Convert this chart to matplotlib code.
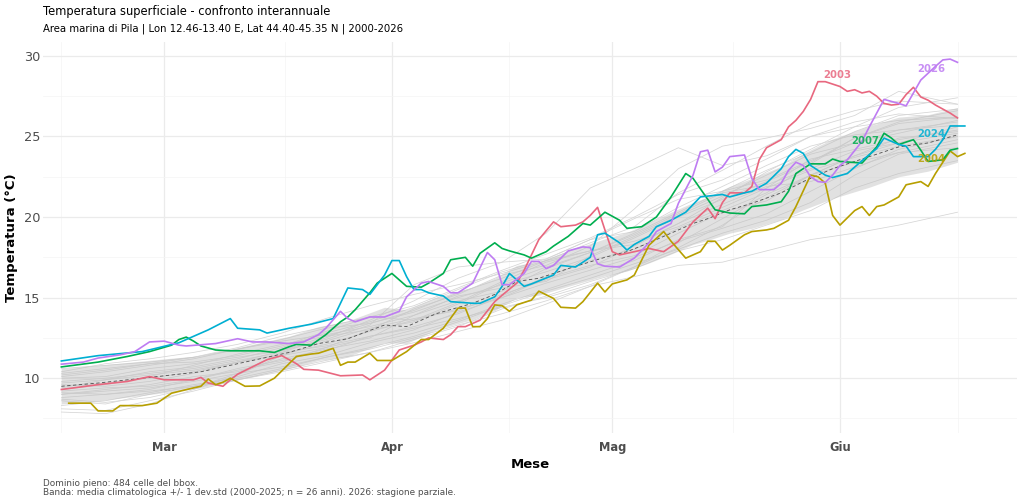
import numpy as np
import pandas as pd
import matplotlib
matplotlib.use("Agg")
import matplotlib.pyplot as plt
import matplotlib.dates as mdates
from matplotlib.ticker import FuncFormatter

plt.rcParams['font.family'] = ['DejaVu Sans']

# giorno 0 = 1 marzo (anno bisestile di riferimento)
BASE = pd.Timestamp("2000-03-01")
MESI = ["Gen", "Feb", "Mar", "Apr", "Mag", "Giu", "Lug", "Ago", "Set", "Ott", "Nov", "Dic"]

# --- anni evidenziati: giorni da 1 marzo, temperatura (°C)
d2003 = [-14, -9, -5, -2, 0, 4, 5, 6, 8, 9, 10, 12, 14, 16, 18, 19, 21, 24, 27, 28,
         30, 32, 34, 35, 36, 38, 39, 40, 41, 43, 45, 46, 48, 49, 51, 53, 54, 56, 57, 58,
         59, 60, 61, 62, 64, 66, 67, 68, 70, 72, 74, 75, 76, 77, 79, 80, 81, 82, 84, 85,
         86, 87, 88, 89, 90, 92, 93, 94, 95, 96, 97, 98, 99, 100, 101, 102, 103, 104, 105, 107,
         108]
t2003 = [9.3, 9.6, 9.8, 10.1, 9.9, 9.9, 10.05, 9.7, 9.5, 9.9, 10.25, 10.7, 11.15, 11.4, 10.9,
         10.55, 10.5, 10.15, 10.2, 9.9, 10.5, 11.75, 12.05, 12.25, 12.5, 12.4, 12.7, 13.2, 13.2,
         13.6, 14.75, 15.15, 15.9, 16.7, 18.6, 19.7, 19.4, 19.5, 19.7, 20.1, 20.6, 19.2, 17.85,
         17.65, 17.85, 18.05, 17.95, 17.85, 18.5, 19.7, 20.55, 19.9, 20.9, 21.5, 21.5, 21.9,
         23.55, 24.3, 24.8, 25.6, 26.0, 26.55, 27.3, 28.4, 28.4, 28.1, 27.8, 27.9, 27.7, 27.8,
         27.5, 27.05, 26.95, 27.0, 27.6, 28.05, 27.45, 27.25, 26.95, 26.45, 26.15]

d2004 = [-13, -10, -9, -7, -6, -3, -1, 1, 4, 5, 6, 7, 8, 9, 11, 13, 15, 17, 18, 20,
         21, 23, 24, 25, 26, 28, 29, 31, 33, 35, 36, 38, 40, 41, 42, 43, 44, 45, 46, 47,
         48, 50, 51, 53, 54, 56, 57, 59, 60, 61, 63, 64, 66, 68, 69, 71, 73, 74, 75, 76,
         77, 79, 80, 82, 83, 85, 86, 88, 89, 90, 91, 92, 94, 95, 96, 97, 98, 100, 101, 103,
         104, 105, 107, 108, 109]
t2004 = [8.45, 8.45, 7.97, 7.97, 8.3, 8.3, 8.45, 9.07, 9.4, 9.5, 9.95, 9.6, 9.75, 10.0, 9.5,
         9.52, 10.0, 10.9, 11.35, 11.5, 11.55, 11.85, 10.8, 11.0, 11.0, 11.55, 11.1, 11.1, 11.65,
         12.4, 12.4, 13.1, 14.35, 14.35, 13.2, 13.2, 13.7, 14.55, 14.5, 14.15, 14.55, 14.85, 15.4,
         14.95, 14.4, 14.35, 14.75, 15.9, 15.35, 15.85, 16.1, 16.4, 18.25, 19.1, 18.5, 17.45,
         17.85, 18.5, 18.5, 17.95, 18.25, 18.9, 19.1, 19.2, 19.3, 19.8, 20.65, 22.6, 22.5, 22.1,
         20.1, 19.5, 20.4, 20.65, 20.1, 20.65, 20.75, 21.25, 22.0, 22.2, 21.9, 22.7, 24.1, 23.75,
         23.95]

d2007 = [-14, -9, -5, -2, 1, 2, 3, 4, 5, 7, 9, 13, 15, 17, 18, 20, 22, 24, 25, 26,
         28, 29, 31, 32, 33, 35, 36, 38, 39, 41, 42, 43, 45, 46, 47, 49, 50, 52, 53, 54,
         55, 57, 58, 60, 62, 63, 65, 67, 69, 71, 72, 75, 77, 79, 80, 82, 84, 85, 86, 88,
         90, 91, 92, 95, 97, 98, 99, 100, 102, 103, 104, 106, 107, 108]
t2007 = [10.7, 11.0, 11.35, 11.65, 12.05, 12.4, 12.55, 12.3, 12.0, 11.75, 11.7, 11.7, 11.6,
         11.95, 12.1, 12.05, 12.7, 13.5, 13.8, 14.25, 15.3, 15.9, 16.5, 16.1, 15.7, 15.65, 15.9,
         16.5, 17.35, 17.5, 16.95, 17.75, 18.4, 18.05, 17.9, 17.65, 17.45, 17.85, 18.2, 18.5,
         18.8, 19.6, 19.5, 20.3, 19.8, 19.3, 19.4, 20.0, 21.25, 22.7, 22.4, 20.45, 20.25, 20.2,
         20.65, 20.75, 20.95, 21.6, 22.7, 23.3, 23.3, 23.6, 23.45, 23.35, 24.35, 25.2, 24.9,
         24.5, 24.8, 24.15, 23.45, 23.55, 24.15, 24.25]

d2024 = [-14, -9, -3, 2, 6, 9, 10, 13, 14, 17, 20, 23, 25, 27, 28, 30, 31, 32, 33, 34,
         35, 36, 38, 39, 42, 43, 45, 46, 47, 48, 49, 50, 53, 54, 56, 58, 59, 60, 62, 63,
         64, 66, 67, 69, 71, 73, 74, 76, 77, 79, 80, 82, 84, 85, 86, 87, 88, 90, 91, 93,
         95, 97, 98, 100, 101, 102, 104, 105, 106, 107, 109]
t2024 = [11.07, 11.4, 11.65, 12.2, 13.0, 13.7, 13.1, 13.0, 12.8, 13.1, 13.35, 13.7, 15.6, 15.5,
         15.2, 16.4, 17.3, 17.3, 16.3, 15.5, 15.5, 15.3, 15.1, 14.75, 14.65, 14.65, 15.05, 15.7,
         16.5, 16.1, 15.7, 15.85, 16.4, 17.0, 16.9, 17.5, 18.9, 19.0, 18.4, 17.95, 18.3, 18.8,
         19.4, 19.8, 20.3, 21.25, 21.3, 21.4, 21.25, 21.5, 21.6, 22.1, 23.0, 23.75, 24.2, 23.95,
         23.2, 22.6, 22.45, 22.7, 23.5, 24.25, 24.9, 24.5, 24.4, 23.75, 23.75, 24.2, 24.8,
         25.65, 25.65]

d2026 = [-14, -11, -9, -6, -4, -2, 0, 2, 3, 7, 10, 12, 14, 17, 19, 21, 22, 24, 25, 26,
         28, 30, 32, 33, 35, 36, 38, 39, 40, 42, 44, 45, 46, 47, 49, 50, 51, 52, 53, 55,
         57, 58, 59, 60, 62, 64, 66, 67, 69, 70, 72, 73, 74, 75, 76, 77, 79, 80, 81, 83,
         84, 85, 86, 87, 88, 89, 90, 91, 92, 93, 95, 96, 98, 100, 101, 102, 103, 105, 106, 107,
         108]
t2026 = [10.87, 11.0, 11.25, 11.45, 11.65, 12.25, 12.3, 12.05, 12.0, 12.15, 12.45, 12.25, 12.25,
         12.15, 12.25, 12.7, 13.1, 14.15, 13.7, 13.5, 13.8, 13.8, 14.15, 15.05, 15.9, 16.0, 15.7,
         15.3, 15.3, 15.9, 17.8, 17.35, 15.8, 15.8, 16.5, 17.25, 17.25, 16.8, 17.0, 17.9, 18.15,
         18.1, 17.1, 16.95, 16.9, 17.45, 18.4, 19.1, 19.6, 20.85, 22.6, 24.05, 24.15, 22.8, 23.1,
         23.75, 23.85, 22.4, 21.7, 21.7, 22.1, 22.9, 23.4, 23.2, 22.5, 22.2, 22.15, 22.6, 23.2,
         23.55, 24.7, 25.6, 27.3, 27.05, 26.9, 27.7, 28.5, 29.35, 29.75, 29.8, 29.6]

# --- climatologia 2000-2025: media e deviazione standard
m_days = [-14, -9, 0, 5, 17, 21, 25, 30, 33, 37, 42, 45, 48, 51, 55, 60, 63, 66, 69, 72,
          74, 77, 80, 84, 87, 91, 96, 100, 104, 108]
m_vals = [9.5, 9.7, 10.15, 10.4, 11.6, 12.15, 12.45, 13.3, 13.2, 14.0, 14.65, 15.2, 16.0, 16.2,
          16.8, 17.5, 17.85, 18.4, 19.0, 19.6, 19.9, 20.45, 20.85, 21.5, 22.2, 23.0, 23.75,
          24.35, 24.6, 25.1]
sd_vals = [1.1, 1.1, 1.05, 1.0, 1.0, 1.05, 1.1, 1.1, 1.05, 1.0, 1.0, 1.0, 1.0, 1.05, 1.1, 1.15,
           1.2, 1.25, 1.3, 1.3, 1.35, 1.45, 1.55, 1.65, 1.75, 1.85, 1.9, 1.85, 1.75, 1.7]

# --- altri anni (grigio)
g_days = [-14, -8, -2, 4, 10, 16, 22, 28, 34, 40, 46, 52, 58, 64, 70, 76, 82, 88, 94, 100, 108]
g2000 = [9.0, 9.3, 9.6, 10.1, 10.4, 11.2, 11.8, 12.3, 13.0, 14.1, 15.0, 16.2, 17.0, 17.6, 19.0, 20.3, 21.0, 22.6, 23.8, 24.9, 25.3]
g2001 = [10.2, 10.5, 10.9, 11.0, 11.4, 12.0, 12.9, 13.8, 13.6, 14.7, 16.0, 17.2, 17.9, 18.3, 19.6, 20.8, 21.9, 22.2, 23.1, 24.0, 24.8]
g2002 = [9.6, 9.5, 9.8, 10.3, 11.0, 11.4, 11.9, 12.5, 13.9, 15.1, 15.6, 16.0, 17.6, 18.8, 20.1, 21.3, 22.6, 23.9, 24.6, 25.2, 26.0]
g2005 = [8.1, 8.0, 8.6, 9.2, 9.9, 10.4, 11.0, 11.6, 12.4, 13.2, 14.3, 15.1, 16.0, 16.8, 17.9, 18.6, 19.5, 20.4, 21.8, 22.7, 23.5]
g2006 = [8.6, 8.4, 9.0, 9.5, 10.1, 10.9, 11.4, 12.2, 12.8, 13.6, 14.6, 15.5, 16.4, 17.3, 18.6, 19.4, 21.8, 23.6, 24.2, 24.8, 25.4]
g2008 = [10.6, 10.8, 11.0, 11.3, 11.8, 12.3, 12.7, 13.2, 13.9, 14.8, 15.4, 16.8, 17.8, 18.9, 20.2, 21.5, 22.0, 23.0, 24.1, 24.6, 25.6]
g2009 = [9.2, 9.4, 9.5, 9.9, 10.5, 11.0, 11.9, 13.0, 14.3, 15.2, 16.4, 17.0, 18.2, 20.5, 23.0, 24.4, 24.9, 25.5, 26.3, 27.8, 27.0]
g2010 = [8.3, 8.6, 9.1, 9.6, 10.0, 10.6, 11.3, 11.9, 12.6, 13.5, 14.5, 15.4, 16.2, 17.1, 18.0, 19.0, 19.8, 20.9, 22.6, 23.9, 24.6]
g2011 = [9.4, 9.9, 10.4, 10.7, 11.2, 11.9, 12.8, 13.5, 14.4, 15.5, 16.6, 17.4, 18.6, 19.1, 20.6, 21.9, 23.2, 24.4, 25.1, 25.4, 25.9]
g2012 = [7.9, 7.8, 8.4, 9.3, 10.2, 11.4, 12.3, 13.1, 13.7, 14.2, 15.2, 16.1, 16.9, 18.2, 19.6, 21.2, 22.8, 24.2, 25.6, 26.8, 27.4]
g2013 = [9.0, 9.2, 9.4, 9.8, 10.3, 10.7, 11.3, 11.8, 12.5, 13.3, 14.0, 14.8, 15.7, 16.3, 17.0, 17.2, 17.9, 18.6, 19.0, 19.5, 20.3]
g2014 = [10.4, 10.9, 11.2, 11.6, 12.1, 12.8, 13.7, 14.5, 15.2, 15.8, 16.5, 17.3, 17.9, 18.5, 19.4, 20.6, 21.8, 22.9, 23.7, 24.4, 25.0]
g2015 = [8.8, 9.0, 9.3, 9.9, 10.6, 11.1, 11.7, 12.6, 13.2, 14.0, 15.1, 16.3, 17.3, 18.0, 19.3, 20.4, 21.5, 23.3, 24.9, 25.8, 26.2]
g2016 = [10.0, 10.1, 10.6, 10.9, 11.3, 11.7, 12.4, 13.3, 15.8, 16.9, 17.2, 17.4, 18.6, 19.9, 21.1, 21.6, 22.3, 23.5, 24.6, 25.4, 25.7]
g2017 = [9.3, 9.6, 10.1, 10.8, 11.5, 12.1, 12.6, 13.0, 13.5, 14.6, 15.9, 16.9, 17.8, 19.0, 20.3, 21.6, 22.9, 24.0, 25.3, 26.3, 26.7]
g2018 = [8.7, 8.5, 8.8, 9.4, 10.3, 11.6, 12.5, 13.6, 14.8, 16.2, 17.2, 19.0, 21.8, 23.0, 24.3, 23.2, 23.8, 25.0, 25.6, 26.0, 26.2]
g2019 = [9.8, 10.0, 10.3, 10.6, 11.1, 11.6, 12.0, 12.6, 13.1, 13.7, 14.4, 15.0, 15.8, 16.9, 18.4, 19.9, 21.4, 22.6, 23.8, 24.6, 25.2]
g2020 = [10.1, 10.4, 10.8, 11.2, 11.8, 12.4, 13.1, 13.4, 14.1, 15.0, 15.8, 16.6, 17.5, 18.7, 20.0, 21.1, 22.2, 23.4, 24.9, 25.9, 26.6]
g2021 = [9.1, 9.0, 9.2, 9.5, 9.9, 10.5, 11.1, 11.6, 12.2, 12.9, 13.6, 14.6, 15.7, 16.9, 18.1, 19.5, 21.2, 22.6, 23.4, 24.0, 24.3]
g2022 = [9.7, 9.9, 10.2, 10.5, 11.0, 11.7, 12.6, 13.4, 14.2, 15.3, 16.2, 17.3, 18.4, 19.4, 21.5, 22.9, 24.4, 25.8, 26.6, 27.2, 27.0]
g2023 = [9.5, 9.7, 10.0, 10.4, 11.0, 11.5, 12.1, 12.9, 13.6, 14.3, 15.0, 15.9, 16.7, 17.5, 18.5, 19.3, 20.2, 21.6, 23.0, 24.2, 25.0]
g2025 = [10.3, 10.6, 10.9, 11.3, 11.9, 12.6, 13.2, 13.8, 14.5, 15.6, 16.7, 17.7, 18.7, 20.0, 21.4, 22.3, 23.6, 25.0, 25.9, 26.4, 26.1]
grey_years = [g2000, g2001, g2002, g2005, g2006, g2008, g2009, g2010, g2011, g2012, g2013,
              g2014, g2015, g2016, g2017, g2018, g2019, g2020, g2021, g2022, g2023, g2025]

highlight = [
    ("2003", d2003, t2003, "#E8677F"),
    ("2004", d2004, t2004, "#B79F00"),
    ("2007", d2007, t2007, "#00AE4F"),
    ("2024", d2024, t2024, "#00AFD2"),
    ("2026", d2026, t2026, "#BE7CF2"),
]
# posizione etichette (giorno, temperatura)
label_pos = {"2003": (91.6, 28.8), "2004": (104.4, 23.6), "2007": (95.4, 24.7),
             "2024": (104.5, 25.15), "2026": (104.4, 29.2)}


def to_dates(days):
    return BASE + pd.to_timedelta(np.asarray(days, dtype=float), unit="D")


fig = plt.figure(figsize=(10.24, 5.03), dpi=100)
ax = fig.add_axes([43 / 1024, 1 - 433 / 503, 974 / 1024, 391.3 / 503])

for g in grey_years:
    ax.plot(to_dates(g_days), g, color="#D5D5D5", lw=0.55, zorder=1)

m = np.array(m_vals)
s = np.array(sd_vals)
ax.fill_between(to_dates(m_days), m - s, m + s, color="#BEBEBE", alpha=0.45, lw=0, zorder=2)
ax.plot(to_dates(m_days), m, color="#4D4D4D", lw=0.6, ls=(0, (4, 3)), zorder=3)

for name, d, t, col in highlight:
    ax.plot(to_dates(d), t, color=col, lw=1.2, zorder=4)
    lx, ly = label_pos[name]
    ax.text(to_dates([lx])[0], ly, name, color=col, fontsize=7.3, fontweight="bold",
            ha="center", va="center", alpha=0.85, zorder=5)

ax.set_xlim(to_dates([-16.5])[0], to_dates([116.1])[0])
ax.set_ylim(6.6, 30.88)

ax.xaxis.set_major_locator(mdates.MonthLocator())
ax.xaxis.set_major_formatter(FuncFormatter(lambda v, p: MESI[mdates.num2date(v).month - 1]))
ax.set_xticks(to_dates(np.linspace(g_days[0], g_days[-1], 5)), minor=True)
ax.set_yticks([10, 15, 20, 25, 30])
ax.set_yticks(np.arange(7.5, 30, 5), minor=True)

ax.grid(which="major", color="#EBEBEB", lw=0.9)
ax.grid(which="minor", color="#F4F4F4", lw=0.5)
ax.set_axisbelow(True)
for sp_ in ax.spines.values():
    sp_.set_visible(False)
ax.tick_params(which="both", length=0)
ax.tick_params(axis="x", pad=6, labelsize=8.3, labelcolor="#4D4D4D")
ax.tick_params(axis="y", pad=2, labelsize=9.3, labelcolor="#4D4D4D")
for lab in ax.get_xticklabels():
    lab.set_fontweight("bold")

ax.set_xlabel("Mese", fontsize=9.5, fontweight="bold", va="center")
ax.xaxis.set_label_coords(0.5, -31 / 391.3)
ax.set_ylabel("Temperatura (°C)", fontsize=9.5, fontweight="bold", va="center")
ax.yaxis.set_label_coords(-31 / 974, 0.5)

fig.text(43 / 1024, 1 - 12 / 503, "Temperatura superficiale - confronto interannuale",
         fontsize=8.3, ha="left", va="center")
fig.text(43 / 1024, 1 - 29 / 503,
         "Area marina di Pila | Lon 12.46-13.40 E, Lat 44.40-45.35 N | 2000-2026",
         fontsize=7.3, ha="left", va="center")
fig.text(43 / 1024, 1 - 497 / 503,
         "Dominio pieno: 484 celle del bbox.\n"
         "Banda: media climatologica +/- 1 dev.std (2000-2025; n = 26 anni). 2026: stagione parziale.",
         fontsize=6.4, color="#4D4D4D", ha="left", va="bottom", linespacing=0.95)

fig.savefig("out.png", dpi=100)
